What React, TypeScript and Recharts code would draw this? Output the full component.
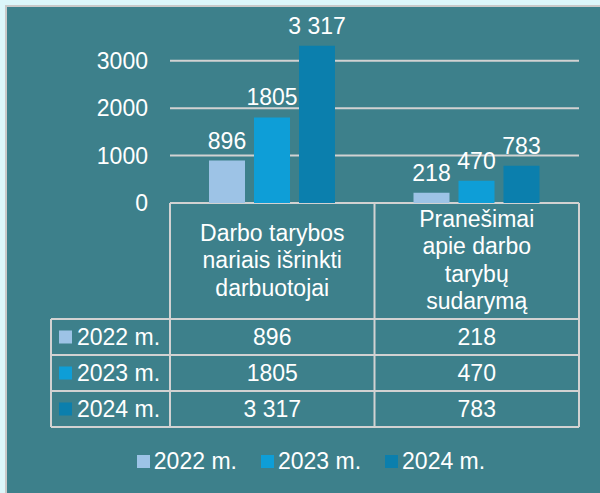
import React from "react";
import { BarChart, Bar, XAxis, YAxis, CartesianGrid, Legend, LabelList } from "recharts";

// categories (header cells of the data table)
const categories = [
  "Darbo tarybos\nnariais išrinkti\ndarbuotojai",
  "Pranešimai\napie darbo\ntarybų\nsudarymą",
];

const seriesNames = ["2022 m.", "2023 m.", "2024 m."];
const values2022 = [896, 218];
const values2023 = [1805, 470];
const values2024 = [3317, 783];

// value texts exactly as printed on the chart
const labels2022 = ["896", "218"];
const labels2023 = ["1805", "470"];
const labels2024 = ["3 317", "783"];

const yTicks = [0, 1000, 2000, 3000];

const COLORS = ["#9DC3E6", "#0E9ED7", "#0B7FAD"];
const BG = "#3D808B";
const LINE = "#D2D2D2";
const FONT = "'Liberation Sans', Arial, sans-serif";

const W = 600;
const H = 493;
const PLOT_LEFT = 170;
const PLOT_RIGHT = 579;
const PLOT_BOTTOM = 203;
const HEADER_H = 116;
const ROW_H = 36;
const LABEL_COL_LEFT = 51;
const LEGEND_H = 26;

const seriesLabels = [labels2022, labels2023, labels2024];

const data = categories.map((name, i) => ({
  name,
  v2022: values2022[i],
  v2023: values2023[i],
  v2024: values2024[i],
}));

function CategoryTick({ x, y, payload }: any) {
  const lines = String(payload.value).split("\n");
  const n = lines.length;
  return (
    <g>
      {lines.map((line, i) => (
        <text
          key={i}
          x={x}
          y={y + 65 + (i - (n - 1) / 2) * 27.5}
          textAnchor="middle"
          fill="#fff"
          fontSize={23}
        >
          {line}
        </text>
      ))}
    </g>
  );
}

function makeLabel(seriesIndex: number) {
  return (props: any) => {
    const { x, y, width, index } = props;
    return (
      <text x={x + width / 2} y={y - 12} textAnchor="middle" fill="#fff" fontSize={23}>
        {seriesLabels[seriesIndex][index]}
      </text>
    );
  };
}

function LegendContent({ payload }: any) {
  return (
    <div style={{ display: "flex", justifyContent: "center", gap: 24, paddingLeft: 22 }}>
      {(payload || []).map((p: any) => (
        <div key={p.value} style={{ display: "flex", alignItems: "center", gap: 4 }}>
          <span style={{ width: 13, height: 13, background: p.color, display: "inline-block" }} />
          <span style={{ color: "#fff", fontSize: 23, lineHeight: LEGEND_H + "px" }}>{p.value}</span>
        </div>
      ))}
    </div>
  );
}

function DataTable() {
  const cols = [LABEL_COL_LEFT, PLOT_LEFT, (PLOT_LEFT + PLOT_RIGHT) / 2, PLOT_RIGHT];
  const rowsTop = PLOT_BOTTOM + HEADER_H;
  const bottom = rowsTop + ROW_H * seriesNames.length;
  const centers = [(cols[1] + cols[2]) / 2, (cols[2] + cols[3]) / 2];
  return (
    <svg width={W} height={H} style={{ position: "absolute", left: 0, top: 0 }}>
      {cols.slice(1).map((cx) => (
        <line key={cx} x1={cx} x2={cx} y1={PLOT_BOTTOM} y2={bottom} stroke={LINE} strokeWidth={2} />
      ))}
      <line x1={cols[0]} x2={cols[0]} y1={rowsTop} y2={bottom} stroke={LINE} strokeWidth={2} />
      <line x1={PLOT_LEFT} x2={PLOT_RIGHT} y1={PLOT_BOTTOM} y2={PLOT_BOTTOM} stroke={LINE} strokeWidth={2} />
      {seriesNames.map((_, r) => (
        <line
          key={r}
          x1={cols[0]}
          x2={PLOT_RIGHT}
          y1={rowsTop + r * ROW_H}
          y2={rowsTop + r * ROW_H}
          stroke={LINE}
          strokeWidth={2}
        />
      ))}
      <line x1={cols[0]} x2={PLOT_RIGHT} y1={bottom} y2={bottom} stroke={LINE} strokeWidth={2} />
      {seriesNames.map((name, r) => {
        const cy = rowsTop + r * ROW_H + ROW_H / 2;
        return (
          <g key={name}>
            <rect x={59} y={cy - 6.5} width={13} height={13} fill={COLORS[r]} />
            <text x={77} y={cy + 8} fill="#fff" fontSize={23}>
              {name}
            </text>
            {seriesLabels[r].map((t, c) => (
              <text key={c} x={centers[c]} y={cy + 8} fill="#fff" fontSize={23} textAnchor="middle">
                {t}
              </text>
            ))}
          </g>
        );
      })}
    </svg>
  );
}

export default function App() {
  return (
    <div
      style={{
        position: "fixed",
        left: 0,
        top: 0,
        width: W,
        height: H,
        overflow: "hidden",
        background: "#DCF6FA",
        fontFamily: FONT,
      }}
    >
      <div
        style={{
          position: "absolute",
          left: 5,
          top: 5,
          width: W,
          height: H,
          background: BG,
          borderLeft: "2px solid #C9C9C9",
          borderTop: "2px solid #C9C9C9",
        }}
      />
      <DataTable />
      <div style={{ position: "absolute", left: 0, top: 0 }}>
        <BarChart
          width={W}
          height={H}
          data={data}
          margin={{
            top: 37,
            right: W - PLOT_RIGHT,
            bottom: H - PLOT_BOTTOM - HEADER_H - LEGEND_H,
            left: 0,
          }}
          barSize={36}
          barGap={9}
          barCategoryGap="19%"
        >
          <CartesianGrid horizontal vertical={false} stroke={LINE} strokeWidth={2} syncWithTicks />
          <XAxis
            dataKey="name"
            height={HEADER_H}
            axisLine={false}
            tickLine={false}
            tickSize={0}
            tickMargin={0}
            interval={0}
            tick={<CategoryTick />}
          />
          <YAxis
            width={PLOT_LEFT}
            domain={[0, 3500]}
            ticks={yTicks}
            axisLine={false}
            tickLine={false}
            tickSize={0}
            tickMargin={22}
            tick={{ fill: "#fff", fontSize: 23 }}
          />
          <Legend
            verticalAlign="bottom"
            wrapperStyle={{ position: "absolute", top: 448, left: 0, width: W }}
            content={<LegendContent />}
          />
          {["v2022", "v2023", "v2024"].map((key, i) => (
            <Bar key={key} dataKey={key} name={seriesNames[i]} fill={COLORS[i]} isAnimationActive={false}>
              <LabelList dataKey={key} content={makeLabel(i)} />
            </Bar>
          ))}
        </BarChart>
      </div>
    </div>
  );
}
